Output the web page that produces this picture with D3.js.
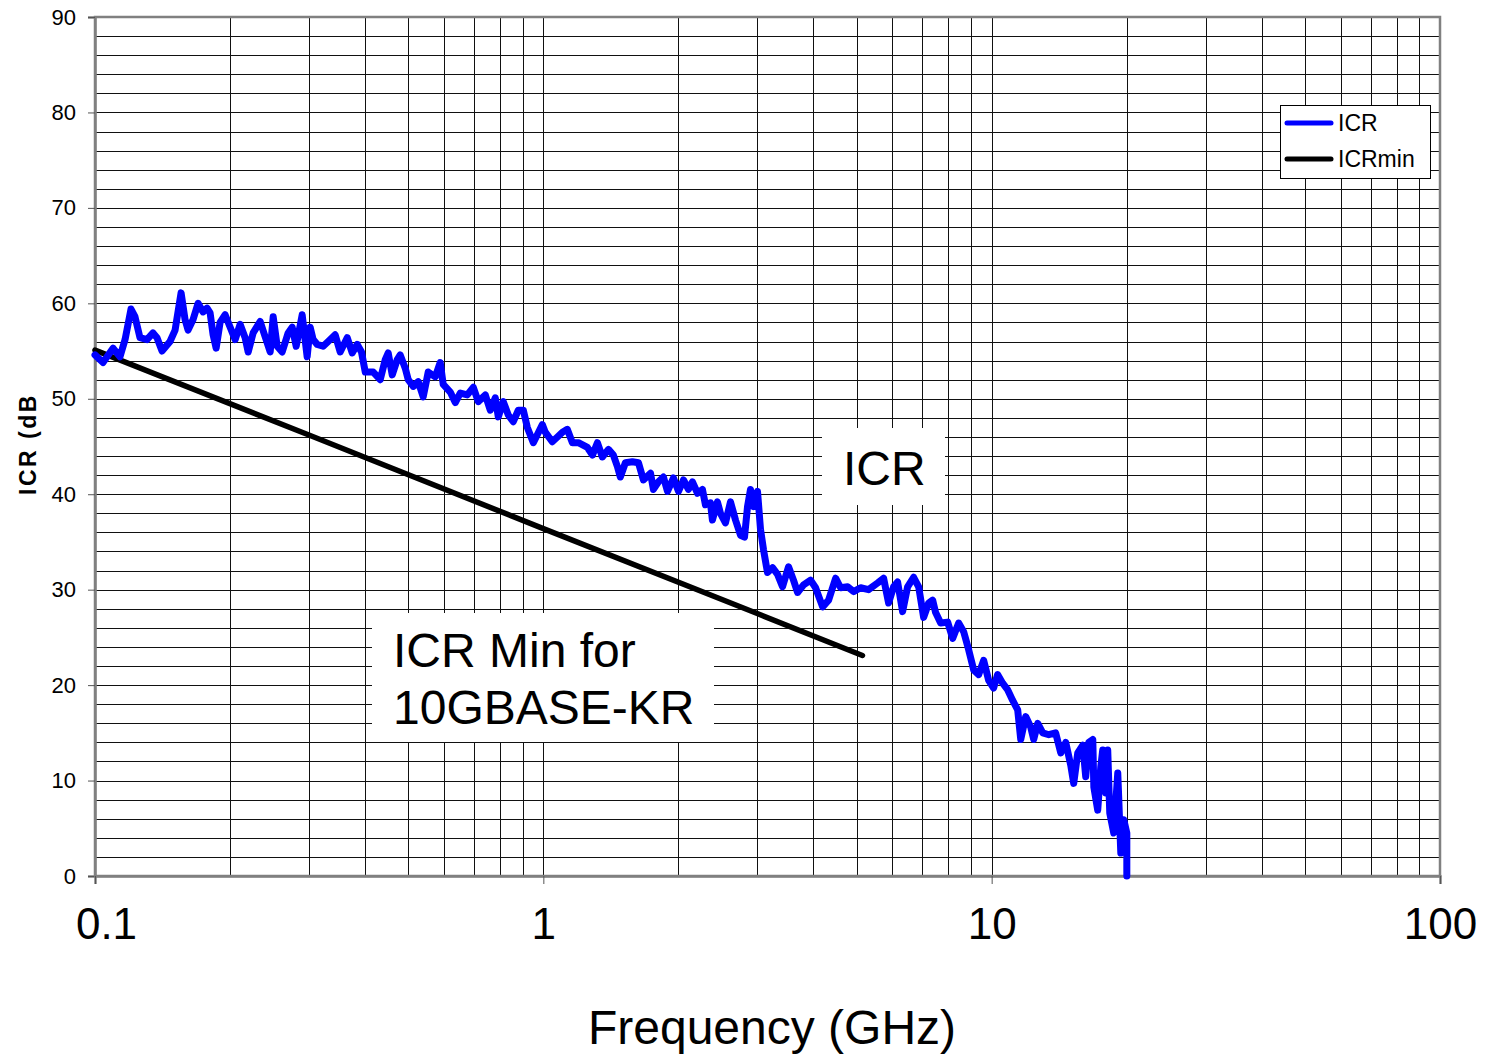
<!DOCTYPE html>
<html>
<head>
<meta charset="utf-8">
<script src="https://cdn.jsdelivr.net/npm/d3@7"></script>
<style>
  body { margin: 0; background: #fff; }
  svg text { font-family: Arial, "Liberation Sans", sans-serif; fill: #000; }
</style>
</head>
<body>
<svg id="chart" width="1486" height="1056"></svg>
<script>
const icrPoints = [
  [0.100, 54.6], [0.1042, 53.8], [0.1097, 55.3], [0.1137, 54.4], [0.1167, 56.2],
  [0.1203, 59.4], [0.1228, 58.6], [0.1260, 56.4], [0.1306, 56.2], [0.1347, 56.9],
  [0.1375, 56.4], [0.1411, 55.0], [0.1470, 56.0], [0.1509, 57.2], [0.1556, 61.1],
  [0.1588, 58.3], [0.1613, 57.2], [0.1655, 58.3], [0.1698, 60.0], [0.1742, 59.1],
  [0.1778, 59.5], [0.1806, 59.0], [0.1834, 56.7], [0.1863, 55.3], [0.1901, 58.0],
  [0.1951, 58.8], [0.2002, 57.5], [0.2054, 56.2], [0.2107, 57.8], [0.2162, 56.4],
  [0.2196, 54.9], [0.2253, 56.9], [0.2335, 58.1], [0.2396, 56.5], [0.2459, 54.9],
  [0.2497, 58.6], [0.2549, 55.5], [0.2615, 54.9], [0.2697, 56.9], [0.2753, 57.5],
  [0.2810, 55.5], [0.2898, 58.8], [0.2973, 54.4], [0.3019, 57.5], [0.3066, 56.2],
  [0.3130, 55.7], [0.3228, 55.5], [0.3312, 56.0], [0.3433, 56.7], [0.3523, 54.9],
  [0.3652, 56.4], [0.3747, 54.8], [0.3845, 55.7], [0.3930, 54.9], [0.4007, 52.8],
  [0.4174, 52.8], [0.4327, 52.0], [0.4440, 54.1], [0.4508, 54.8], [0.4602, 52.5],
  [0.4722, 54.1], [0.4795, 54.6], [0.4920, 53.2], [0.4996, 52.0], [0.5126, 51.3],
  [0.5260, 51.8], [0.5396, 50.2], [0.5537, 52.8], [0.5740, 52.3], [0.5889, 53.8],
  [0.5980, 51.5], [0.6200, 50.7], [0.6362, 49.6], [0.6527, 50.6], [0.6767, 50.4],
  [0.6979, 51.2], [0.7160, 49.7], [0.7422, 50.4], [0.7615, 48.8], [0.7813, 50.1],
  [0.7935, 48.1], [0.8141, 49.7], [0.8353, 48.3], [0.8570, 47.6], [0.8793, 48.8],
  [0.9024, 48.8], [0.9211, 47.0], [0.9500, 45.4], [0.9949, 47.3], [1.010, 46.5],
  [1.047, 45.5], [1.075, 46.0], [1.103, 46.5], [1.131, 46.8], [1.161, 45.4],
  [1.197, 45.4], [1.254, 44.9], [1.287, 44.1], [1.320, 45.4], [1.354, 43.9],
  [1.397, 44.7], [1.433, 44.1], [1.463, 42.9], [1.485, 41.8], [1.524, 43.3],
  [1.580, 43.4], [1.630, 43.3], [1.672, 41.5], [1.734, 42.2], [1.760, 40.5],
  [1.806, 41.3], [1.853, 41.8], [1.892, 40.3], [1.951, 41.7], [2.002, 40.3],
  [2.054, 41.5], [2.107, 40.5], [2.151, 41.3], [2.207, 40.1], [2.264, 40.5],
  [2.299, 38.9], [2.359, 39.1], [2.383, 37.3], [2.445, 39.2], [2.484, 38.0],
  [2.548, 37.0], [2.615, 39.2], [2.683, 37.3], [2.753, 35.7], [2.810, 35.5],
  [2.854, 38.7], [2.898, 40.5], [2.943, 38.7], [3.004, 40.3], [3.051, 36.3],
  [3.098, 34.2], [3.162, 31.8], [3.245, 32.3], [3.330, 31.6], [3.416, 30.3],
  [3.523, 32.4], [3.614, 31.0], [3.690, 29.7], [3.806, 30.5], [3.945, 31.0],
  [4.048, 30.2], [4.197, 28.2], [4.328, 28.9], [4.487, 31.2], [4.603, 30.2],
  [4.772, 30.3], [4.920, 29.8], [5.101, 30.2], [5.314, 30.0], [5.566, 30.7],
  [5.741, 31.2], [5.890, 28.6], [6.043, 30.3], [6.169, 30.8], [6.329, 27.7],
  [6.494, 30.3], [6.698, 31.3], [6.873, 30.3], [7.051, 27.1], [7.235, 28.6],
  [7.385, 28.9], [7.499, 27.6], [7.695, 26.5], [7.977, 26.6], [8.184, 24.9],
  [8.441, 26.5], [8.660, 25.6], [8.886, 23.7], [9.117, 21.6], [9.355, 21.1],
  [9.597, 22.6], [9.847, 20.5], [10.10, 19.7], [10.31, 21.1], [10.58, 20.2],
  [10.86, 19.5], [11.14, 18.4], [11.43, 17.4], [11.61, 14.3], [11.91, 16.7],
  [12.22, 15.6], [12.41, 14.3], [12.67, 16.0], [13.00, 15.0], [13.41, 14.8],
  [13.89, 15.0], [14.26, 12.9], [14.63, 14.0], [15.01, 11.6], [15.24, 9.7],
  [15.56, 12.9], [15.97, 13.7], [16.21, 10.4], [16.47, 14.0], [16.81, 14.3],
  [16.90, 9.3], [17.24, 6.9], [17.51, 11.4], [17.69, 13.2], [17.97, 8.7],
  [18.15, 13.2], [18.34, 6.6], [18.72, 4.5], [19.11, 10.8], [19.21, 8.0],
  [19.41, 2.4], [19.71, 5.9], [20.02, 4.5], [20.02, 0.0]
];

// ICRmin limit line, [GHz, dB]
const icrMinPoints = [[0.1, 55.1], [0.3, 46.2], [1, 36.4], [3, 27.5], [5.15, 23.1]];

const xTickLabels = [0.1, 1, 10, 100];
const yTickLabels = [0, 10, 20, 30, 40, 50, 60, 70, 80, 90];
const seriesNames = ["ICR", "ICRmin"];
const seriesColors = ["#0000ff", "#000000"];

const svg = d3.select("#chart");
const plotLeft = 95, plotRight = 1440, plotTop = 17, plotBottom = 876;

const x = d3.scaleLog().domain([0.1, 100]).range([plotLeft, plotRight]);
const y = d3.scaleLinear().domain([0, 90]).range([plotBottom, plotTop]);

// grid
const grid = svg.append("g");
grid.selectAll("line.v")
  .data(x.ticks())
  .join("line")
  .attr("class", "v")
  .attr("x1", (d) => Math.round(x(d)) + 0.5)
  .attr("x2", (d) => Math.round(x(d)) + 0.5)
  .attr("y1", plotTop)
  .attr("y2", plotBottom)
  .attr("stroke", "#111")
  .attr("stroke-width", 1);
grid.selectAll("line.h")
  .data(d3.range(0, 91, 2))
  .join("line")
  .attr("class", "h")
  .attr("x1", plotLeft)
  .attr("x2", plotRight)
  .attr("y1", (d) => Math.round(y(d)) + 0.5)
  .attr("y2", (d) => Math.round(y(d)) + 0.5)
  .attr("stroke", "#111")
  .attr("stroke-width", 1);

// frame
svg.append("rect")
  .attr("x", plotLeft).attr("y", plotTop)
  .attr("width", plotRight - plotLeft).attr("height", plotBottom - plotTop)
  .attr("fill", "none")
  .attr("stroke", "#808080")
  .attr("stroke-width", 2.5);

// axes (ticks + labels)
const yAxis = d3.axisLeft(y).tickValues(yTickLabels).tickSize(7).tickPadding(12);
svg.append("g")
  .attr("transform", `translate(${plotLeft},0)`)
  .call(yAxis)
  .call((g) => g.select(".domain").attr("stroke", "#808080").attr("stroke-width", 2.5))
  .call((g) => g.selectAll(".tick line").attr("stroke", "#555"))
  .call((g) => g.selectAll("text").attr("font-size", 22).attr("font-family", "Arial, 'Liberation Sans', sans-serif"));

const xAxis = d3.axisBottom(x).tickValues(xTickLabels).tickFormat(d3.format("")).tickSize(8).tickPadding(24);
svg.append("g")
  .attr("transform", `translate(0,${plotBottom})`)
  .call(xAxis)
  .call((g) => g.select(".domain").attr("stroke", "#808080").attr("stroke-width", 2.5))
  .call((g) => g.selectAll(".tick line").attr("stroke", "#555"))
  .call((g) => g.selectAll("text").attr("font-size", 44).attr("font-family", "Arial, 'Liberation Sans', sans-serif"))
  .call((g) => g.selectAll(".tick").filter((d) => d === 0.1).select("text").attr("dx", 11));

// axis titles
svg.append("text")
  .attr("x", 772).attr("y", 1044)
  .attr("text-anchor", "middle")
  .attr("font-size", 48)
  .text("Frequency (GHz)");

svg.append("text")
  .attr("transform", "translate(36,444) rotate(-90)")
  .attr("text-anchor", "middle")
  .attr("font-size", 23)
  .attr("font-weight", "bold")
  .attr("letter-spacing", 2.5)
  .text("ICR (dB");

// annotation boxes
svg.append("rect").attr("x", 822).attr("y", 428).attr("width", 123).attr("height", 77).attr("fill", "#fff");
svg.append("text").attr("x", 843).attr("y", 485).attr("font-size", 48).text("ICR");

svg.append("rect").attr("x", 372).attr("y", 613).attr("width", 342).attr("height", 129).attr("fill", "#fff");
svg.append("text").attr("x", 393).attr("y", 667).attr("font-size", 48).text("ICR Min for");
svg.append("text").attr("x", 393).attr("y", 724).attr("font-size", 48).text("10GBASE-KR");

// series
const line = d3.line().x((d) => x(d[0])).y((d) => y(d[1]));

svg.append("path")
  .datum(icrMinPoints)
  .attr("d", line)
  .attr("fill", "none")
  .attr("stroke", seriesColors[1])
  .attr("stroke-width", 5.5)
  .attr("stroke-linecap", "round");

svg.append("path")
  .datum(icrPoints)
  .attr("d", line)
  .attr("fill", "none")
  .attr("stroke", seriesColors[0])
  .attr("stroke-width", 7)
  .attr("stroke-linejoin", "round")
  .attr("stroke-linecap", "round");

// legend
const legend = svg.append("g").attr("transform", "translate(1280,105)");
legend.append("rect")
  .attr("x", 0.5).attr("y", 0.5)
  .attr("width", 150).attr("height", 73)
  .attr("fill", "#fff")
  .attr("stroke", "#000")
  .attr("stroke-width", 1);
seriesNames.forEach((name, i) => {
  const ly = 18 + i * 36;
  legend.append("line")
    .attr("x1", 7).attr("x2", 51)
    .attr("y1", ly).attr("y2", ly)
    .attr("stroke", seriesColors[i])
    .attr("stroke-width", 5)
    .attr("stroke-linecap", "round");
  legend.append("text")
    .attr("x", 58).attr("y", ly + 8)
    .attr("font-size", 23)
    .text(name);
});
</script>
</body>
</html>
